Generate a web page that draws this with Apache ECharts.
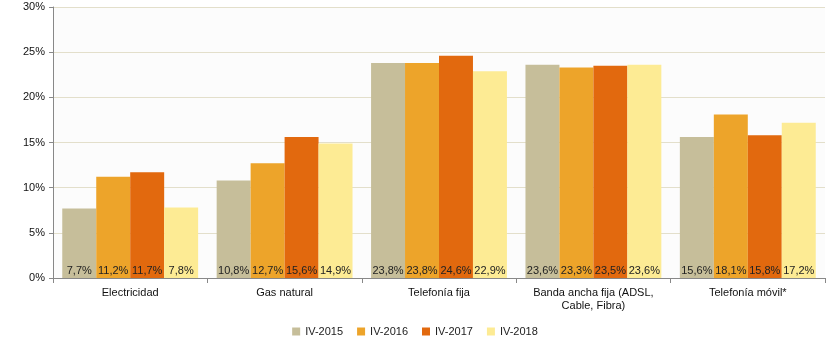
<!DOCTYPE html>
<html><head><meta charset="utf-8">
<script src="https://cdn.jsdelivr.net/npm/echarts@6/dist/echarts.min.js"></script>
<style>html,body{margin:0;padding:0;background:#fff}#c{width:830px;height:347px}</style>
</head><body><div id="c"></div>
<script>
const categories = ['Electricidad','Gas natural','Telefonía fija','Banda ancha fija (ADSL,\nCable, Fibra)','Telefonía móvil*'];
const seriesNames = ['IV-2015','IV-2016','IV-2017','IV-2018'];
const v2015 = [7.7, 10.8, 23.8, 23.6, 15.6];
const v2016 = [11.2, 12.7, 23.8, 23.3, 18.1];
const v2017 = [11.7, 15.6, 24.6, 23.5, 15.8];
const v2018 = [7.8, 14.9, 22.9, 23.6, 17.2];
const yTicks = [0,5,10,15,20,25,30];
const colors = ['#C6BE9A','#EDA42A','#E2690E','#FDEB94'];
const font = 'Liberation Sans, Arial, sans-serif';
const vals = [v2015,v2016,v2017,v2018];
const chart = echarts.init(document.getElementById('c'), null, {renderer:'canvas'});
chart.setOption({
  animation:false,
  backgroundColor:'#fff',
  grid:{left:53,right:5,top:7,bottom:69,show:true,backgroundColor:'#FCFCFC',borderWidth:0},
  legend:{bottom:5,left:'center',itemWidth:8,itemHeight:8,itemGap:14,icon:'rect',
    textStyle:{fontFamily:font,fontSize:11,color:'#222'},data:seriesNames},
  xAxis:{type:'category',data:categories,
    axisLine:{lineStyle:{color:'#888'}},
    axisTick:{show:true,length:5,lineStyle:{color:'#888'}},
    axisLabel:{interval:0,fontFamily:font,fontSize:11,color:'#111',margin:8,lineHeight:13}},
  yAxis:{type:'value',min:yTicks[0],max:yTicks[yTicks.length-1],interval:5,
    axisLine:{show:true,lineStyle:{color:'#888'}},
    axisTick:{show:true,length:4,lineStyle:{color:'#888'}},
    splitLine:{lineStyle:{color:'#E3DFCB'}},
    axisLabel:{fontFamily:font,fontSize:11,color:'#111',margin:8,formatter:v=>v+'%'}},
  series: seriesNames.map((n,i)=>({
    name:n,type:'bar',data:vals[i],barGap:'0%',barCategoryGap:'12%',
    itemStyle:{color:colors[i]},
    label:{show:true,position:'insideBottom',distance:2,fontFamily:font,fontSize:11,color:'#222',
      formatter:p=>p.value.toFixed(1).replace('.',',')+'%'}
  }))
});
</script></body></html>
